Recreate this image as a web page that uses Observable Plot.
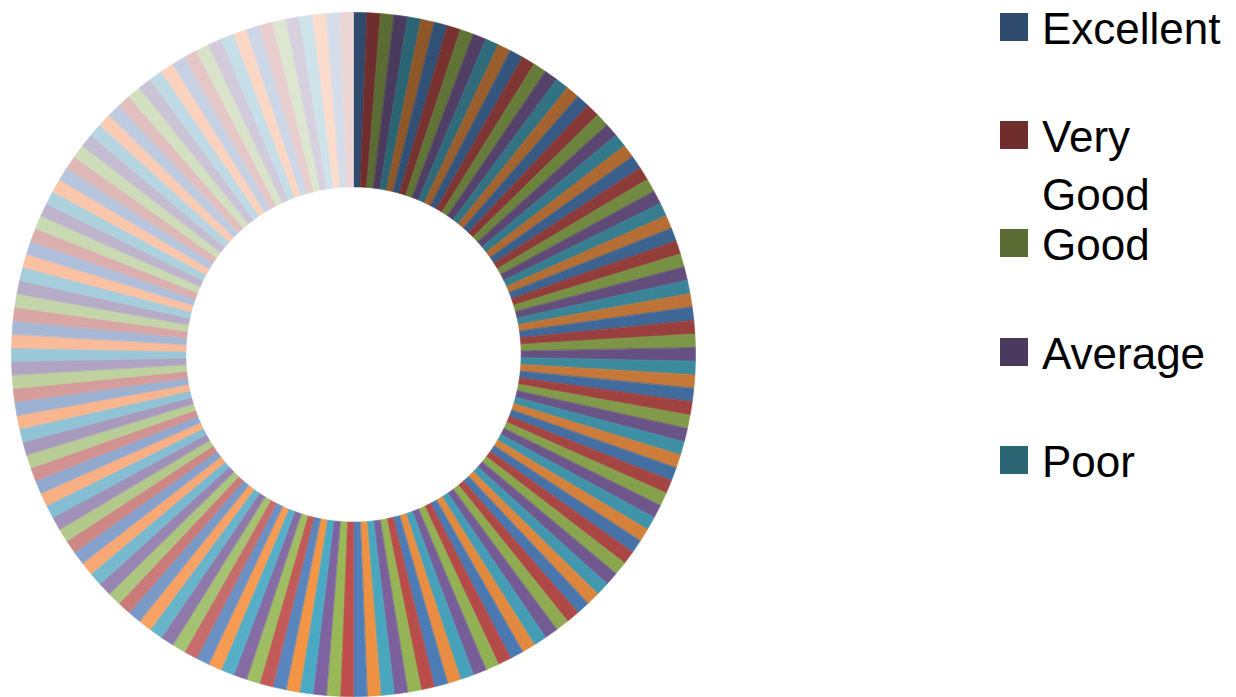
<!DOCTYPE html>
<html>
<head>
<meta charset="utf-8">
<script src="https://cdn.jsdelivr.net/npm/d3@7"></script>
<script src="https://cdn.jsdelivr.net/npm/@observablehq/plot@0.6"></script>
<style>
  html, body { margin: 0; padding: 0; background: #fff; }
  #wrap { position: relative; width: 1236px; height: 697px; overflow: hidden; }
  .entry { position: absolute; left: 1000px; width: 236px; }
  .sw { position: absolute; left: 0; top: 13px; width: 28px; height: 28px; }
  .lab { position: absolute; left: 42px; top: 0; width: 194px;
         font-family: "Liberation Sans", Arial, sans-serif; font-size: 44px; line-height: 58px; color: #000; }
</style>
</head>
<body>
<div id="wrap"></div>
<script>
// ---- data ----
const categories = ["Excellent", "Very Good", "Good", "Average", "Poor"];
const values = [
  1,1,1,1,1,1,1,1,1,1,1,1,1,1,1,1,1,1,1,1,
  1,1,1,1,1,1,1,1,1,1,1,1,1,1,1,1,1,1,1,1,
  1,1,1,1,1,1,1,1,1,1,1,1,1,1,1,1,1,1,1,1,
  1,1,1,1,1,1,1,1,1,1,1,1,1,1,1,1,1,1,1,1,
  1,1,1,1,1,1,1,1,1,1,1,1,1,1,1,1,1,1,1,1,
  1,1,1,1,1,1,1,1,1,1,1,1,1,1,1,1,1,1,1,1,
  1,1,1,1,1,1,1,1,1,1,1,1,1,1,1,1,1,1,1,1,
  1,1,1,1,1,1,1,1,1,1,1,1,1,1,1,1,1,1
];
const accents = ["#4F81BD", "#C0504D", "#9BBB59", "#8064A2", "#4BACC6", "#F79646"];

// Excel 2007 "vary colors by point" shading
function varyColor(i, n) {
  const k = Math.floor(i / 6), maxK = Math.floor(n / 6);
  const f = k / (maxK + 1) * 1.4 - 0.7;
  const c = d3.rgb(accents[i % 6]);
  const ch = v => {
    let l = Math.pow(v / 255, 2.2);
    l = f < 0 ? l * (1 + f) : l * (1 - f) + f;
    return Math.round(Math.pow(l, 1 / 2.2) * 255);
  };
  return d3.rgb(ch(c.r), ch(c.g), ch(c.b)).formatHex();
}

const n = values.length;
const colors = values.map((_, i) => varyColor(i, n));
const inner = 0.49;
const arcs = d3.pie().sort(null).value(d => d)(values);

const rows = [];
arcs.forEach((a, i) => {
  const steps = 6;
  for (let s = 0; s <= steps; s++) {
    const t = a.startAngle + (a.endAngle - a.startAngle) * s / steps;
    rows.push({slice: i, x: Math.sin(t), y: Math.cos(t), color: colors[i]});
  }
  for (let s = steps; s >= 0; s--) {
    const t = a.startAngle + (a.endAngle - a.startAngle) * s / steps;
    rows.push({slice: i, x: inner * Math.sin(t), y: inner * Math.cos(t), color: colors[i]});
  }
});

const chart = Plot.plot({
  width: 1236,
  height: 697,
  margin: 0,
  x: {domain: [-1, 1], range: [11, 695], axis: null},
  y: {domain: [-1, 1], range: [696, 12], axis: null},
  color: {type: "identity"},
  style: {background: "#fff"},
  marks: [
    Plot.line(rows, {x: "x", y: "y", z: "slice", fill: "color", stroke: "color",
                     strokeWidth: 0.6, curve: "linear-closed"})
  ]
});

const wrap = document.getElementById("wrap");
wrap.appendChild(chart);

categories.forEach((c, i) => {
  const e = document.createElement("div");
  e.className = "entry";
  e.style.top = (i * 108.2) + "px";
  const sw = document.createElement("div");
  sw.className = "sw";
  sw.style.background = colors[i];
  const lab = document.createElement("div");
  lab.className = "lab";
  lab.textContent = c;
  e.appendChild(sw);
  e.appendChild(lab);
  wrap.appendChild(e);
});
</script>
</body>
</html>
